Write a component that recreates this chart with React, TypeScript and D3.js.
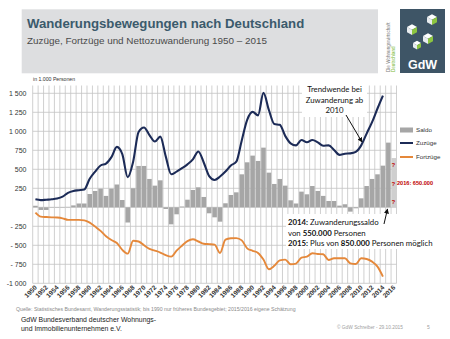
import React from "react";
import * as d3 from "d3";

const years = [
  1950, 1951, 1952, 1953, 1954, 1955, 1956, 1957, 1958, 1959,
  1960, 1961, 1962, 1963, 1964, 1965, 1966, 1967, 1968, 1969,
  1970, 1971, 1972, 1973, 1974, 1975, 1976, 1977, 1978, 1979,
  1980, 1981, 1982, 1983, 1984, 1985, 1986, 1987, 1988, 1989,
  1990, 1991, 1992, 1993, 1994, 1995, 1996, 1997, 1998, 1999,
  2000, 2001, 2002, 2003, 2004, 2005, 2006, 2007, 2008, 2009,
  2010, 2011, 2012, 2013, 2014, 2015, 2016,
];

// Zuzüge 1950–2014 (in 1.000)
const zuzuege = [
  105, 95, 100, 105, 115, 140, 190, 215, 225, 235,
  375, 470, 550, 575, 660, 795, 700, 395, 600, 990,
  1050, 950, 865, 930, 670, 435, 470, 515, 565, 630,
  735, 590, 410, 360, 405, 470, 550, 600, 880, 1150,
  1255, 1210, 1505, 1280, 1095, 1085, 940, 842, 815, 885,
  855, 885, 855, 810, 815, 755, 690, 705, 710, 730,
  815, 970, 1120, 1300, 1470,
];

// Fortzüge 1950–2014 (in 1.000, plotted negative)
const fortzuege = [
  70, 123, 128, 132, 135, 145, 165, 166, 166, 172,
  202, 254, 310, 380, 430, 470, 560, 610, 440, 450,
  500, 548, 570, 595, 630, 649, 570, 505, 445, 421,
  450, 480, 485, 492, 600, 425, 408, 405, 435, 540,
  572, 600, 688, 815, 770, 698, 688, 750, 740, 662,
  649, 605, 614, 618, 693, 671, 671, 671, 737, 746,
  671, 680, 715, 781, 912,
];

// Saldo 1950–2016 (in 1.000)
const saldo = [
  20, -35, -35, -5, -5, -5, 5, 25, 50, 50,
  175, 215, 245, 150, 245, 300, 96, -200, 250, 544,
  544, 373, 285, 355, -22, -224, -92, 10, 100, 228,
  263, 136, -79, -132, -189, 53, 162, 197, 434, 592,
  680, 610, 785, 456, 307, 373, 285, 92, 50, 206,
  171, 280, 215, 150, 83, 83, 22, 40, -57, -13,
  118, 280, 373, 434, 548, 851, 648,
];

const yTicks = [-1000, -750, -500, -250, 0, 250, 500, 750, 1000, 1250, 1500];
const yTickLabels = ["-1 000", "- 750", "- 500", "- 250", "", "250", "500", "750", "1 000", "1 250", "1 500"];
const xLabelYears = [
  1950, 1952, 1954, 1956, 1958, 1960, 1962, 1964, 1966, 1968, 1970, 1972,
  1974, 1976, 1978, 1980, 1982, 1984, 1986, 1988, 1990, 1992, 1994, 1996,
  1998, 2000, 2002, 2004, 2006, 2008, 2010, 2012, 2014, 2016,
];

const NAVY = "#1c2b57";
const ORANGE = "#e5883a";
const BAR = "#a6a6a6";
const GRID = "#c4c4c4";

export default function App() {
  const x = d3.scaleBand<number>().domain(years).range([32.7, 396.5]).padding(0);
  const y = d3.scaleLinear().domain([-1000, 1500]).range([283.3, 93.3]);
  const bw = x.bandwidth();
  const cx = (yr: number) => (x(yr) as number) + bw / 2;
  const plotTop = 85.5;

  const zLine = d3
    .line<number>()
    .x((_, i) => cx(years[i]))
    .y((d) => y(d))
    .curve(d3.curveMonotoneX);
  const fLine = d3
    .line<number>()
    .x((_, i) => cx(years[i]))
    .y((d) => y(-d))
    .curve(d3.curveMonotoneX);

  const boundaries = years.map((yr) => x(yr) as number).concat([(x(years[years.length - 1]) as number) + bw]);

  const arrowMarker = (
    <marker id="ah" viewBox="0 0 10 10" refX="9" refY="5" markerWidth="5" markerHeight="5" orient="auto-start-reverse">
      <path d="M0,0 L10,5 L0,10 z" fill="#111" />
    </marker>
  );

  const cube = (px: number, py: number, s: number, key: string) => (
    <g key={key} transform={`translate(${px},${py})`}>
      <path d={`M0,0 L${s},${-s * 0.55} L${2 * s},0 L${s},${s * 0.55} Z`} fill="#ffffff" />
      <path d={`M0,0 L${s},${s * 0.55} L${s},${s * 1.6} L0,${s * 1.05} Z`} fill="#e8ecef" />
      <path d={`M${2 * s},0 L${s},${s * 0.55} L${s},${s * 1.6} L${2 * s},${s * 1.05} Z`} fill="#8cc540" />
    </g>
  );

  return (
    <svg width={450} height={339} style={{ position: "absolute", left: 0, top: 0, background: "#fff" }} fontFamily="'Liberation Sans', Arial, sans-serif">
      <defs>{arrowMarker}</defs>
      <rect x={0} y={0} width={450} height={339} fill="#fff" />

      {/* Title box */}
      <rect x={21.7} y={9.3} width={356.3} height={64} fill="#dddee0" />
      <text x={27} y={28} fontSize={13.2} fontWeight="bold" fill="#3b5a6c">
        Wanderungsbewegungen nach Deutschland
      </text>
      <text x={27} y={44} fontSize={9.9} fill="#4a4a4a">
        Zuzüge, Fortzüge und Nettozuwanderung 1950 – 2015
      </text>

      {/* Logo */}
      <text transform="translate(389.5,72) rotate(-90)" fontSize={4.6} fill="#7a7a7a">Die Wohnungswirtschaft</text>
      <text transform="translate(395,72) rotate(-90)" fontSize={4.6} fill="#7ab934">Deutschland</text>
      <rect x={400} y={9} width={45} height={64} fill="#3e5566" />
      {cube(407, 27, 5, "c1")}
      {cube(427, 17, 5, "c2")}
      {cube(423, 36, 5, "c3")}
      {cube(413, 43, 4, "c4")}
      <text x={422.5} y={68.5} fontSize={12.5} fontWeight="bold" fill="#fff" textAnchor="middle">GdW</text>

      {/* unit label */}
      <text x={33} y={81} fontSize={5.2} fill="#333">in 1.000 Personen</text>

      {/* gridlines */}
      {boundaries.map((bx, i) => (
        <line key={"v" + i} x1={bx} x2={bx} y1={plotTop} y2={y(-1000)} stroke={GRID} strokeWidth={0.8} />
      ))}
      {yTicks.map((t) => (
        <line key={"h" + t} x1={boundaries[0]} x2={boundaries[boundaries.length - 1]} y1={y(t)} y2={y(t)} stroke={GRID} strokeWidth={0.8} />
      ))}

      {/* y labels */}
      {yTicks.map((t, i) => (
        <text key={"yl" + t} x={26.5} y={y(t) + 2.4} fontSize={7} fill="#333" textAnchor="end">
          {yTickLabels[i]}
        </text>
      ))}

      {/* bars */}
      {saldo.map((v, i) => {
        const w = bw * 0.84;
        return (
          <rect
            key={"b" + i}
            x={cx(years[i]) - w / 2}
            y={y(Math.max(0, v))}
            width={w}
            height={Math.abs(y(v) - y(0))}
            fill={years[i] === 2016 ? "#cfcfcf" : BAR}
          />
        );
      })}

      {/* lines */}
      <path d={zLine(zuzuege) || ""} fill="none" stroke={NAVY} strokeWidth={2.1} strokeLinejoin="round" />
      <path d={fLine(fortzuege) || ""} fill="none" stroke={ORANGE} strokeWidth={1.9} strokeLinejoin="round" />

      {/* x labels */}
      {xLabelYears.map((yr) => (
        <text
          key={"xl" + yr}
          transform={`translate(${cx(yr) + 2},${288}) rotate(-45)`}
          fontSize={6.6}
          fontWeight="bold"
          fill="#333"
          textAnchor="end"
        >
          {yr}
        </text>
      ))}

      {/* legend */}
      <rect x={400} y={127.5} width={13} height={5} fill={BAR} />
      <text x={416} y={132.2} fontSize={6.2} fill="#333">Saldo</text>
      <line x1={400} x2={413} y1={143} y2={143} stroke={NAVY} strokeWidth={2} />
      <text x={416} y={145.2} fontSize={6.2} fill="#333">Zuzüge</text>
      <line x1={400} x2={413} y1={157} y2={157} stroke={ORANGE} strokeWidth={2} />
      <text x={416} y={159.2} fontSize={6.2} fill="#333">Fortzüge</text>

      {/* red markers */}
      <text x={391.5} y={167} fontSize={6} fontWeight="bold" fill="#c00000">?</text>
      <text x={391.5} y={185.5} fontSize={6} fontWeight="bold" fill="#c00000">?</text>
      <text x={397} y={185} fontSize={5.6} fontWeight="bold" fill="#c00000">2016: 650.000</text>
      <text x={391.5} y={204} fontSize={6} fontWeight="bold" fill="#c00000">?</text>

      {/* annotation top */}
      <rect x={302} y={82} width={65} height={35} fill="#fff" />
      <g fontFamily="Lato, 'Open Sans', sans-serif" fontSize={7.8} fill="#111" textAnchor="middle">
        <text x={334.5} y={92}>Trendwende bei</text>
        <text x={334.5} y={102.5}>Zuwanderung ab</text>
        <text x={334.5} y={113}>2010</text>
      </g>
      <line x1={346} y1={115} x2={362} y2={142} stroke="#111" strokeWidth={1} markerEnd="url(#ah)" />

      {/* annotation bottom */}
      <rect x={286} y={214} width={154} height={35} fill="#fff" />
      <g fontFamily="Lato, 'Open Sans', sans-serif" fontSize={7.8} fill="#111">
        <text x={288} y={225}>
          <tspan fontWeight="bold">2014:</tspan> Zuwanderungssaldo
        </text>
        <text x={288} y={235.5}>
          von <tspan fontWeight="bold">550.000</tspan> Personen
        </text>
        <text x={288} y={246}>
          <tspan fontWeight="bold">2015:</tspan> Plus von <tspan fontWeight="bold">850.000</tspan> Personen möglich
        </text>
      </g>
      <line x1={384} y1={224} x2={387.5} y2={209} stroke="#111" strokeWidth={1} markerEnd="url(#ah)" />

      {/* footer */}
      <text x={16} y={311} fontSize={5.2} fill="#8a8a8a">
        Quelle: Statistisches Bundesamt, Wanderungsstatistik; bis 1990 nur früheres Bundesgebiet; 2015/2016 eigene Schätzung
      </text>
      <text x={21} y={322} fontSize={6.9} fill="#222">GdW Bundesverband deutscher Wohnungs-</text>
      <text x={21} y={330.5} fontSize={6.9} fill="#222">und Immobilienunternehmen e.V.</text>
      <text x={337} y={329} fontSize={4.8} fill="#a0a0a0">© GdW Schreiber - 29.10.2015</text>
      <text x={427} y={329} fontSize={5} fill="#a0a0a0">5</text>
    </svg>
  );
}
